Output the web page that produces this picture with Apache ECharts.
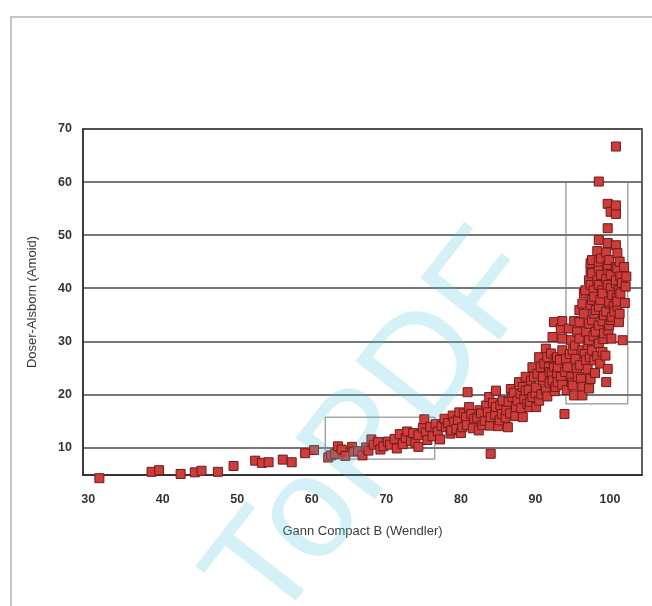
<!DOCTYPE html>
<html>
<head>
<meta charset="utf-8">
<script src="https://cdn.jsdelivr.net/npm/echarts@6/dist/echarts.min.js"></script>
<style>
  html, body { margin: 0; padding: 0; background: #ffffff; }
  #chart { width: 652px; height: 606px; }
</style>
</head>
<body>
<div id="chart"></div>
<script>
// Gann Compact B (x) vs Doser-Alsborn (y), one point per sample
const lowTail = [
  [31.5,4.2],[38.5,5.4],[39.5,5.7],[42.4,5.0],[44.3,5.3],[45.2,5.6],[47.4,5.4],[49.5,6.5],
  [52.4,7.5],[53.3,7.1],[54.2,7.2],[56.1,7.7],[57.3,7.2],[59.1,8.9],[60.3,9.5]
];
const midBand = [
  [62.2,8.1],[62.6,8.5],[63.1,8.8],[63.5,10.2],[64.0,9.6],[64.5,8.4],[65.4,10.1],[65.6,9.2],
  [66.2,9.3],[66.8,8.5],[67.3,10.0],[67.6,9.4],[68.0,11.5],[68.3,10.5],[68.9,11.0],[69.2,9.6],
  [69.6,10.2],[70.2,11.1],[70.5,10.5],[71.1,11.6],[71.4,9.8],[71.8,12.5],[72.2,10.6],[72.6,11.8],
  [72.8,13.0],[73.3,11.2],[73.6,12.7],[73.9,10.9],[74.3,10.1],[74.3,12.3],[74.9,13.7],[75.1,15.3],
  [75.3,12.8],[75.5,11.4],[75.9,13.9],[76.2,12.1],[76.6,14.4],[76.9,13.0],[77.2,11.5]
];
const riseBand = [
  [77.4,14.0],[77.8,15.4],[78.0,13.8],[78.3,14.6],[78.6,12.6],[78.7,13.2],[78.9,16.0],[79.1,14.8],
  [79.4,13.5],[79.6,15.2],[79.8,16.6],[80.0,12.7],[80.2,13.8],[80.4,16.4],[80.7,15.7],[80.8,14.2],
  [80.9,20.4],[81.1,17.6],[81.4,16.3],[81.6,13.6],[81.8,15.4],[82.2,15.6],[82.4,13.2],[82.5,17.0],
  [82.7,16.4],[82.9,14.2],[83.2,15.0],[83.4,17.9],[83.6,16.6],[83.8,19.5],[83.9,14.1],[84.0,15.7],
  [84.0,8.8],[84.3,18.4],[84.6,16.2],[84.7,20.7],[84.7,17.6],[85.0,14.0],[85.2,15.1],[85.3,17.9],
  [85.6,18.8],[85.5,16.3],[86.0,15.6],[86.1,17.0],[86.3,13.8],[86.4,18.6],[86.6,16.4],[86.7,21.0],
  [86.9,19.5],[87.1,20.3],[87.3,15.9],[87.4,17.6],[87.6,18.8],[87.8,22.3],[88.0,20.1],[88.1,17.4],
  [88.3,15.7],[88.3,21.4],[88.5,19.2],[88.7,20.7],[88.7,23.3],[88.9,18.2],[89.1,20.8],[89.2,17.6],
  [89.3,18.6],[89.4,22.6],[89.6,19.5],[89.6,25.1],[89.8,23.3],[90.0,20.2],[90.1,21.3],[90.1,17.6],
  [90.3,23.9],[90.5,18.8],[90.5,27.0],[90.7,25.1],[90.8,20.0],[91.0,22.6],[91.0,23.3],[91.2,25.8],
  [91.4,20.7],[91.4,28.6],[91.6,19.6],[91.6,27.0],[91.8,25.1],[91.9,24.2],[91.9,22.2],[92.1,27.7],
  [92.2,24.0],[92.3,22.6],[92.3,30.8],[92.5,25.1],[92.5,33.6],[92.6,20.6],[92.7,21.4],[92.7,26.7],
  [92.9,27.0],[92.9,23.9]
];
const steepBand = [
  [93.0,22.3],[93.0,25.1],[93.3,26.5],[93.4,23.3],[93.4,32.4],[93.6,21.8],[93.6,28.3],[93.6,30.5],
  [93.6,33.8],[93.9,16.3],[94.0,24.2],[94.1,26.7],[94.2,20.8],[94.3,25.1],[94.5,32.4],[94.6,27.6],
  [94.8,23.3],[94.8,30.2],[94.9,22.2],[95.0,21.7],[95.0,28.3],[95.2,19.8],[95.2,33.8],[95.3,29.2],
  [95.4,26.7],[95.6,24.8],[95.6,31.8],[95.7,23.3],[95.9,30.5],[95.9,33.6],[95.9,35.9],[96.0,25.5],
  [96.1,22.9],[96.3,21.4],[96.3,19.8],[96.3,28.3],[96.3,37.1],[96.5,35.2],[96.5,39.0],[96.6,27.6],
  [96.7,39.6],[96.8,26.4],[96.8,31.8],[97.0,24.8],[97.0,29.3],[97.2,21.1],[97.2,30.2],[97.2,33.3],
  [97.2,41.5],[97.3,27.0],[97.4,22.9],[97.4,36.8],[97.4,40.6],[97.4,43.4],[97.4,44.7],[97.6,28.3],
  [97.6,34.0],[97.6,37.8],[97.6,42.8],[97.6,45.3],[97.8,31.0],[97.8,39.6],[97.9,26.4],[97.9,35.2],
  [97.9,38.4],[98.0,24.0],[98.1,31.8],[98.1,35.9],[98.3,27.2],[98.3,41.5],[98.3,47.0],[98.5,29.6],
  [98.5,33.0],[98.5,36.5],[98.5,40.6],[98.5,43.7],[98.5,45.0],[98.5,49.1],[98.7,25.8],[98.7,37.8],
  [98.8,42.5],[98.8,45.6],[98.9,39.6],[99.0,28.0],[99.0,33.8],[99.0,39.0],[99.1,30.4],[99.2,31.5],
  [99.2,34.9],[99.4,27.3],[99.5,22.3],[99.5,35.6],[99.5,41.8],[99.5,46.7],[99.7,24.8],[99.7,40.6],
  [99.7,43.4],[99.7,44.4],[99.7,48.5],[99.7,51.3],[99.7,55.9],[99.8,32.0],[99.9,33.0],[99.9,37.1],
  [99.9,37.5],[99.9,45.3],[100.1,34.0],[100.1,40.0],[100.1,42.5],[100.1,54.4],[100.2,30.5],[100.3,34.6],
  [100.3,38.7],[100.5,36.6],[100.6,35.6],[100.8,40.9],[100.8,41.5],[100.8,44.0],[100.8,48.1],[100.8,54.0],
  [100.8,55.6],[100.9,38.2],[101.0,36.5],[101.0,37.5],[101.0,43.7],[101.0,46.6],[101.2,33.6],[101.2,39.6],
  [101.3,35.2],[101.3,45.0],[101.4,39.0],[101.4,42.2],[101.6,41.0],[101.7,30.2],[101.9,44.0],[102.0,37.2],
  [102.1,40.3],[102.2,42.2]
];
const topOutliers = [[98.5,60.1],[100.8,66.7]];

// Highlighted ranges: [lower-left corner, upper-right corner]
const boxes = [
  [[61.8, 7.8], [76.5, 15.7]],
  [[94.1, 18.2], [102.4, 60.0]]
];

const xRange = [29.3, 104.3];
const yRange = [4.8, 70];
const xTitle = 'Gann Compact B (Wendler)';
const yTitle = 'Doser-Alsborn (Amoid)';
const stamp = 'ToPDF';

const points = [].concat(lowTail, midBand, riseBand, steepBand, topOutliers);

const chart = echarts.init(document.getElementById('chart'), null, { renderer: 'canvas' });

const tickFmt = v => (Math.abs(v - Math.round(v / 10) * 10) < 1e-6 ? String(Math.round(v)) : '');

chart.setOption({
  animation: false,
  backgroundColor: '#ffffff',
  grid: {
    left: 83, right: 10, top: 129, bottom: 131,
    show: true, borderColor: '#3a3a3a', borderWidth: 1.6, backgroundColor: 'transparent'
  },
  xAxis: {
    type: 'value', min: xRange[0], max: xRange[1], splitNumber: 8,
    name: xTitle, nameLocation: 'middle', nameGap: 50,
    nameTextStyle: { fontFamily: 'Liberation Sans, Arial', fontSize: 13, color: '#3a3a3a' },
    axisLine: { show: true, lineStyle: { color: '#333', width: 2 } },
    axisTick: { show: false },
    axisLabel: { formatter: tickFmt, margin: 18, fontFamily: 'Liberation Sans, Arial', fontSize: 12.5, fontWeight: 'bold', color: '#333' },
    splitLine: { show: false }
  },
  yAxis: {
    type: 'value', min: yRange[0], max: yRange[1], splitNumber: 7,
    name: yTitle, nameLocation: 'middle', nameGap: 44,
    nameTextStyle: { fontFamily: 'Liberation Sans, Arial', fontSize: 13, color: '#3a3a3a' },
    axisLine: { show: true, lineStyle: { color: '#333', width: 1.6 } },
    axisTick: { show: false },
    axisLabel: { formatter: tickFmt, margin: 11, fontFamily: 'Liberation Sans, Arial', fontSize: 12.5, fontWeight: 'bold', color: '#333' },
    splitLine: { show: true, lineStyle: { color: '#4a4a4a', width: 1.5 } }
  },
  series: [
    {
      type: 'scatter',
      silent: true,
      data: [],
      markArea: {
        silent: true,
        itemStyle: { color: 'rgba(0,0,0,0)', borderColor: '#7a7a7a', borderWidth: 1 },
        data: boxes.map(b => [{ coord: b[0] }, { coord: b[1] }])
      },
      z: 1
    },
    {
      type: 'scatter',
      clip: false,
      symbol: 'rect',
      symbolSize: 9,
      data: points,
      itemStyle: { color: '#d03c3a', borderColor: '#6a1c1c', borderWidth: 1, opacity: 1 },
      z: 2
    }
  ],
  graphic: [
    {
      type: 'rect', silent: true, z: 0,
      shape: { x: 11, y: 17, width: 700, height: 700 },
      style: { fill: 'none', stroke: '#c6c6c6', lineWidth: 2 }
    },
    {
      type: 'text', silent: true, z: 100,
      x: 378, y: 430, rotation: 52 * Math.PI / 180,
      style: {
        text: stamp, font: '146px "Liberation Sans", Arial',
        fill: 'rgba(70,195,220,0.24)', align: 'center', verticalAlign: 'middle'
      }
    }
  ]
});
</script>
</body>
</html>
